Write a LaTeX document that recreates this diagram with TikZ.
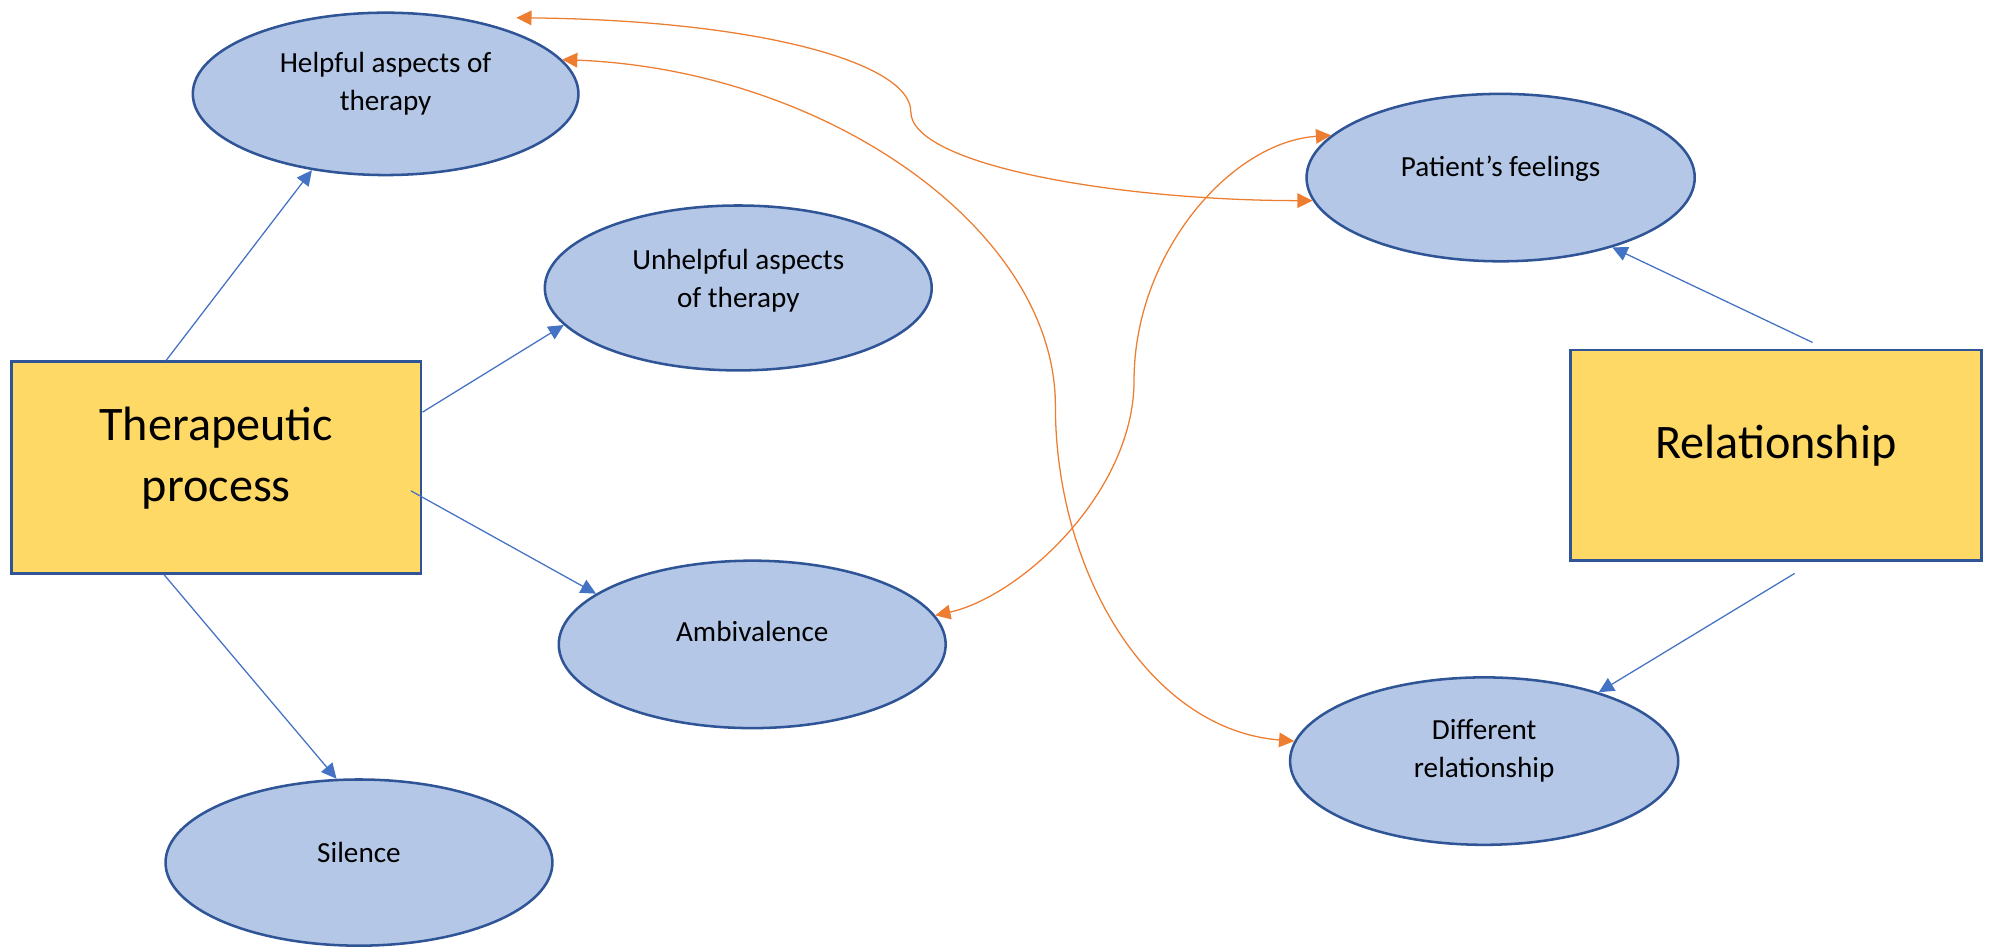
\documentclass[tikz,border=0pt]{standalone}
\usepackage{fontspec}
\setmainfont{Carlito}
\usetikzlibrary{shapes.geometric,arrows.meta}
\definecolor{ellfill}{HTML}{B4C7E7}
\definecolor{edgeblue}{HTML}{2F5597}
\definecolor{boxfill}{HTML}{FFD966}
\definecolor{linkblue}{HTML}{4472C4}
\definecolor{linkorange}{HTML}{ED7D31}

\begin{document}
\begin{tikzpicture}[x=1pt,y=-1pt,
  theme/.style={ellipse, draw=edgeblue, line width=2pt, fill=ellfill, inner sep=0pt},
  themetext/.style={align=center, font=\fontsize{23}{30}\selectfont, text=black},
  core/.style={rectangle, draw=edgeblue, line width=2pt, fill=boxfill, inner sep=0pt},
  coretext/.style={align=center, font=\fontsize{38}{48}\selectfont, text=black},
  link/.style={draw=linkblue, line width=1pt, -{Triangle[length=12pt,width=11.5pt]}},
  tie/.style={draw=linkorange, line width=1pt, {Triangle[length=12pt,width=11.5pt]}-{Triangle[length=12pt,width=11.5pt]}},
]
\useasboundingbox (0,0) rectangle (1568,746);

% main categories
\node[core, minimum width=323pt, minimum height=167pt,
      label={[coretext, yshift=7.5pt]center:{Therapeutic\\process}}] (tp) at (170.5,368.5) {};
\node[core, minimum width=324pt, minimum height=166pt,
      label={[coretext, yshift=8pt]center:{Relationship}}] (rel) at (1400,359) {};

% sub-themes
\node[theme, minimum width=304pt, minimum height=128pt,
      label={[themetext, yshift=8pt]center:{Helpful aspects of\\therapy}}] (helpful) at (304,74) {};
\node[theme, minimum width=305pt, minimum height=130pt,
      label={[themetext, yshift=6pt]center:{Unhelpful aspects\\of therapy}}] (unhelpful) at (582,227) {};
\node[theme, minimum width=305pt, minimum height=132pt,
      label={[themetext, yshift=10pt]center:{Ambivalence}}] (ambiv) at (593,508) {};
\node[theme, minimum width=305pt, minimum height=131pt,
      label={[themetext, yshift=8pt]center:{Silence}}] (silence) at (283,680) {};
\node[theme, minimum width=306pt, minimum height=132pt,
      label={[themetext, yshift=7pt]center:{Patient’s feelings}}] (feelings) at (1183,140) {};
\node[theme, minimum width=306pt, minimum height=132pt,
      label={[themetext, yshift=8pt]center:{Different\\relationship}}] (different) at (1170,600) {};

% category -> theme links
\draw[link] (tp.115.3) -- (helpful.226.8);
\draw[link] (tp.15.1) -- (unhelpful.192.4);
\draw[link] ([xshift=-9pt,yshift=-18.5pt]tp.east) -- (ambiv.162);
\draw[link] (tp.244.7) -- (silence.105.3);
\draw[link] ([yshift=5pt]rel.71.4) -- (feelings.328.6);
\draw[link] ([yshift=-9pt]rel.280.9) -- (different.31.4);

% cross links between themes
\coordinate (hTop) at (407,14);
\draw[tie] (hTop) .. controls (600,16) and (718,50) .. (718,88)
  .. controls (718,130) and (880,158) .. (feelings.187);
\draw[tie] (helpful.11) .. controls (650,55) and (832,180) .. (832,320)
  .. controls (832,450) and (905,575) .. (different.174);
\draw[tie] (ambiv.9) .. controls (805,470) and (894,388) .. (894,300)
  .. controls (894,200) and (970,112) .. (feelings.166);
\end{tikzpicture}
\end{document}
